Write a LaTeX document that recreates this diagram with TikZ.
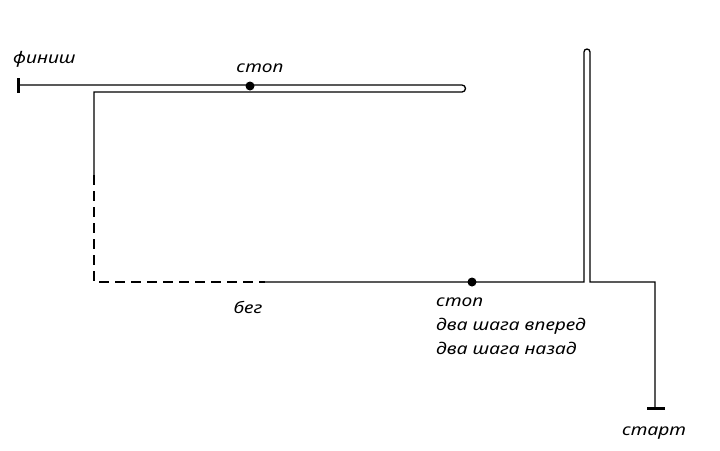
\documentclass[tikz,border=0pt]{standalone}
\usepackage{fontspec}
\setmainfont{Noto Sans}
\begin{document}
\begin{tikzpicture}[x=1pt,y=-1pt,
  trk/.style={line width=1.3pt},
  dsh/.style={line width=1.3pt,dash pattern=on 10pt off 6pt},
  tick/.style={line width=3pt},
  lbl/.style={font=\itshape\fontsize{16}{22}\selectfont,inner sep=0pt,xscale=1.2,transform shape},
  dot/.style={circle,fill=black,inner sep=0pt,minimum size=9pt}]
\useasboundingbox (0,0) rectangle (720,450);
\coordinate (fin) at (18,85);
\coordinate (tr1) at (462,85);
\coordinate (tl) at (94,92);
\coordinate (lm) at (94,175);
\coordinate (bl) at (94,282);
\coordinate (bm) at (265,282);
\coordinate (br1) at (584,282);
\coordinate (up1) at (584,52);
\coordinate (br2) at (590,282);
\coordinate (rc) at (655,282);
\coordinate (st) at (655,408);
\draw[trk] (fin) -- (tr1) arc[start angle=90,end angle=-90,radius=3.5pt] -- (tl) -- (lm);
\draw[dsh] (lm) -- (bl) -- (bm);
\draw[trk] (bm) -- (br1) -- (up1) arc[start angle=180,end angle=0,radius=3pt] -- (br2) -- (rc) -- (st);
\draw[tick] (18,78) -- (18,93);
\draw[tick] (647,408) -- (665,408);
\node[dot] (d1) at (250,86) {};
\node[dot] (d2) at (472,282) {};
\node[lbl,anchor=base west] (l1) at (13,63) {финиш};
\node[lbl,anchor=base] (l2) at (260,72) {стоп};
\node[lbl,anchor=base] (l3) at (248,313) {бег};
\node[lbl,anchor=base west] (l4) at (436,306) {стоп};
\node[lbl,anchor=base west] (l5) at (436,330) {два шага вперед};
\node[lbl,anchor=base west] (l6) at (436,354) {два шага назад};
\node[lbl,anchor=base] (l7) at (654,435) {старт};
\end{tikzpicture}
\end{document}
